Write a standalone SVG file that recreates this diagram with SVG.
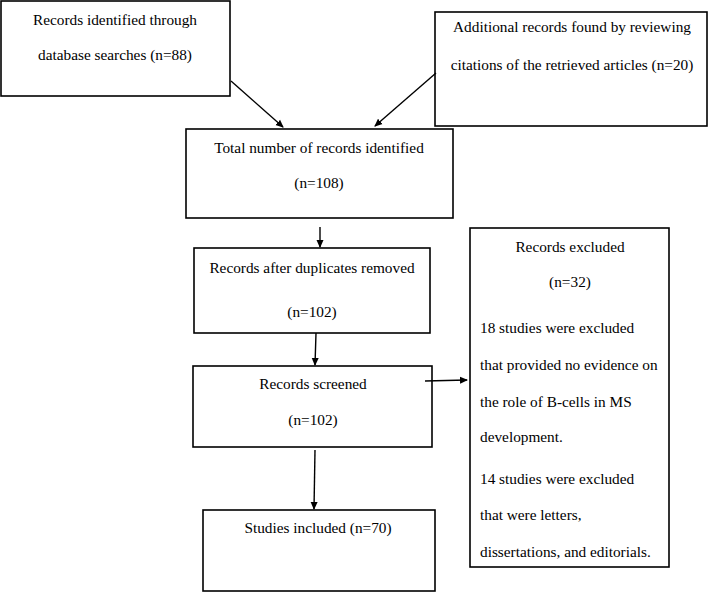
<svg xmlns="http://www.w3.org/2000/svg" width="709" height="592" viewBox="0 0 709 592">
<style>
.box{fill:#fff;stroke:#000;stroke-width:1.6}
text{font-size:15.3px;fill:#000}
.c{text-anchor:middle}
.conn line{stroke:#000;stroke-width:1.4;marker-end:url(#ah)}
</style>
<defs>
<marker id="ah" markerWidth="8" markerHeight="8" refX="7" refY="4" orient="auto" markerUnits="userSpaceOnUse">
<path d="M0,0.5 L8,4 L0,7.5 Z" fill="#000"/>
</marker>
</defs>
<rect width="709" height="592" fill="#fff"/>
<g font-family="'Liberation Serif', 'Times New Roman', serif">
<g id="n1"><rect class="box" x="1" y="1" width="229" height="95"/>
<text class="c" x="115" y="25">Records identified through</text>
<text class="c" x="115" y="60">database searches (n=88)</text></g>
<g id="n2"><rect class="box" x="435" y="12" width="272" height="114"/>
<text class="c" x="572" y="32">Additional records found by reviewing</text>
<text class="c" x="572" y="70">citations of the retrieved articles (n=20)</text></g>
<g id="n3"><rect class="box" x="186" y="129" width="267" height="89"/>
<text class="c" x="319" y="153">Total number of records identified</text>
<text class="c" x="319" y="188">(n=108)</text></g>
<g id="n4"><rect class="box" x="194" y="248" width="236" height="85"/>
<text class="c" x="312" y="273">Records after duplicates removed</text>
<text class="c" x="312" y="317">(n=102)</text></g>
<g id="n5"><rect class="box" x="193" y="366" width="239" height="81"/>
<text class="c" x="313" y="389">Records screened</text>
<text class="c" x="313" y="425">(n=102)</text></g>
<g id="n6"><rect class="box" x="470" y="228" width="199" height="339"/>
<text class="c" x="570" y="252">Records excluded</text>
<text class="c" x="570" y="287">(n=32)</text>
<text x="480" y="333">18 studies were excluded</text>
<text x="480" y="370">that provided no evidence on</text>
<text x="480" y="407">the role of B-cells in MS</text>
<text x="480" y="442">development.</text>
<text x="480" y="484">14 studies were excluded</text>
<text x="480" y="520">that were letters,</text>
<text x="480" y="557">dissertations, and editorials.</text></g>
<g id="n7"><rect class="box" x="203" y="510" width="232" height="81"/>
<text class="c" x="318" y="533">Studies included (n=70)</text></g>
</g>
<g id="connectors" class="conn">
<line x1="231" y1="81" x2="283" y2="127"/>
<line x1="436" y1="73" x2="375" y2="126"/>
<line x1="320" y1="227" x2="320" y2="247"/>
<line x1="316" y1="333" x2="315" y2="365"/>
<line x1="425" y1="381" x2="467" y2="380"/>
<line x1="315" y1="450" x2="314" y2="509"/>
</g>
</svg>
